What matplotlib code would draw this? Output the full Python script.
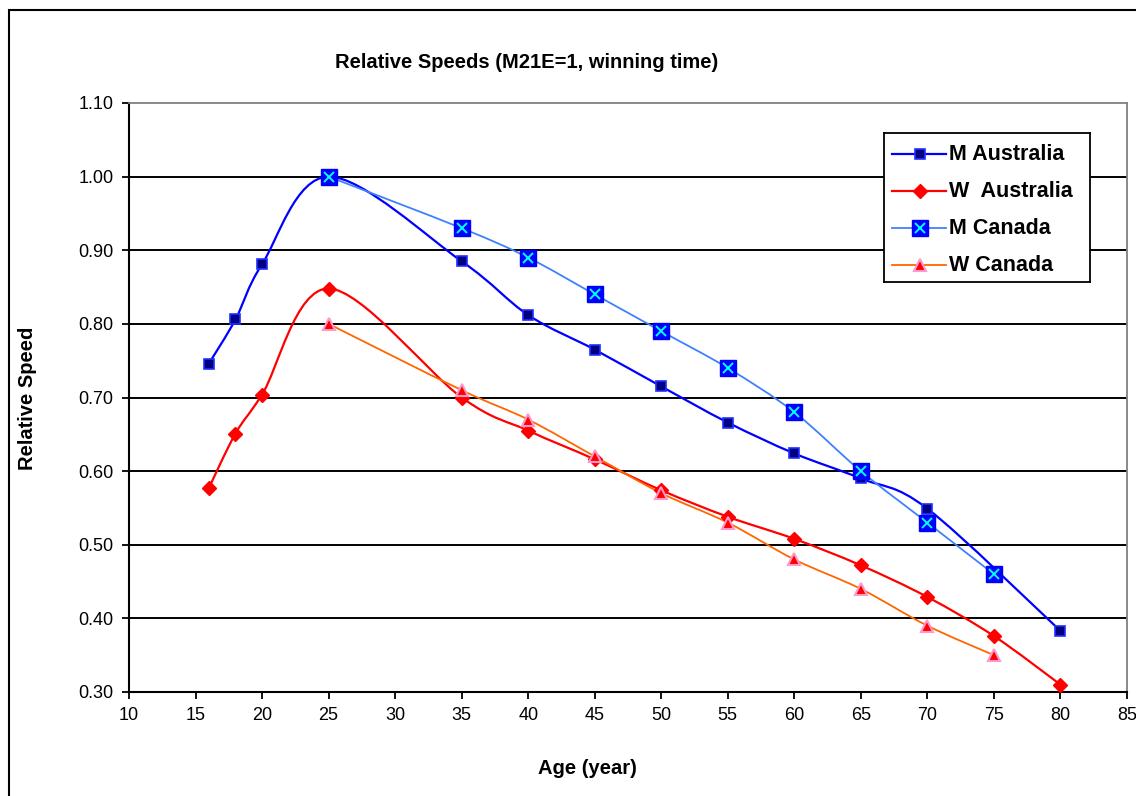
import matplotlib
matplotlib.use("Agg")
import matplotlib.pyplot as plt
from matplotlib.path import Path
from matplotlib.patches import PathPatch, Rectangle
from matplotlib.lines import Line2D
import numpy as np

plt.rcParams['font.family'] = ['Liberation Sans', 'DejaVu Sans']

# ---- data ----
ages_m_aus = [16, 18, 20, 25, 35, 40, 45, 50, 55, 60, 65, 70, 80]
speed_m_aus = [0.746, 0.806, 0.881, 1.00, 0.885, 0.812, 0.765, 0.715, 0.666, 0.624, 0.590, 0.549, 0.383]

ages_w_aus = [16, 18, 20, 25, 35, 40, 45, 50, 55, 60, 65, 70, 75, 80]
speed_w_aus = [0.577, 0.651, 0.704, 0.848, 0.700, 0.655, 0.616, 0.574, 0.538, 0.508, 0.472, 0.429, 0.376, 0.310]

ages_m_can = [25, 35, 40, 45, 50, 55, 60, 65, 70, 75]
speed_m_can = [1.00, 0.93, 0.89, 0.84, 0.79, 0.74, 0.68, 0.60, 0.53, 0.46]

ages_w_can = [25, 35, 40, 45, 50, 55, 60, 65, 70, 75]
speed_w_can = [0.80, 0.71, 0.67, 0.62, 0.57, 0.53, 0.48, 0.44, 0.39, 0.35]

series_names = ["M Australia", "W  Australia", "M Canada", "W Canada"]
x_ticks = list(range(10, 90, 5))
y_ticks = [0.30, 0.40, 0.50, 0.60, 0.70, 0.80, 0.90, 1.00, 1.10]


def smooth_path(xs, ys):
    """Excel-style smoothed line as cubic Bezier segments."""
    pts = np.column_stack([xs, ys]).astype(float)
    n = len(pts)
    verts = [pts[0]]
    codes = [Path.MOVETO]
    for i in range(n - 1):
        p0 = pts[i - 1] if i > 0 else pts[i]
        p1 = pts[i]
        p2 = pts[i + 1]
        p3 = pts[i + 2] if i + 2 < n else pts[i + 1]
        c1 = p1 + (p2 - p0) / 6.0
        c2 = p2 - (p3 - p1) / 6.0
        verts += [c1, c2, p2]
        codes += [Path.CURVE4] * 3
    return Path(verts, codes)


W, H = 1136, 796
fig = plt.figure(figsize=(W / 100, H / 100), dpi=100)

# outer chart border (extends off the right/bottom edge)
fig.add_artist(Rectangle((9 / W, -0.1), 1.2, 1 - 10 / H + 0.1, transform=fig.transFigure,
                         fill=False, edgecolor='black', lw=1.5))

ax = fig.add_axes([129 / W, 1 - 692 / H, (1127 - 129) / W, (692 - 103) / H])
ax.set_xlim(10, 85)
ax.set_ylim(0.30, 1.10)

for y in y_ticks[1:-1]:
    ax.axhline(y, color='black', lw=1.4, zorder=1)

styles = [
    dict(x=ages_m_aus, y=speed_m_aus, lc='#0000FF', lw=1.6,
         m=dict(marker='s', markersize=7.5, markerfacecolor='#000080', markeredgecolor='#2030FF', markeredgewidth=1.2)),
    dict(x=ages_w_aus, y=speed_w_aus, lc='#FF0000', lw=1.6,
         m=dict(marker='D', markersize=7, markerfacecolor='#FF0000', markeredgecolor='#FF0000', markeredgewidth=1)),
    dict(x=ages_m_can, y=speed_m_can, lc='#4080FF', lw=1.3,
         m=dict(marker='s', markersize=11, markerfacecolor='#0000FF', markeredgecolor='#0000FF', markeredgewidth=1)),
    dict(x=ages_w_can, y=speed_w_can, lc='#FF6600', lw=1.3,
         m=dict(marker='^', markersize=8.5, markerfacecolor='#FF0000', markeredgecolor='#FF99CC', markeredgewidth=1.5)),
]

for i, s in enumerate(styles):
    ax.add_patch(PathPatch(smooth_path(s['x'], s['y']), facecolor='none',
                           edgecolor=s['lc'], lw=s['lw'], zorder=3 + i))
    ax.plot(s['x'], s['y'], ls='none', zorder=10 + i, clip_on=False, **s['m'])
    if i == 2:
        ax.plot(s['x'], s['y'], ls='none', marker='x', markersize=6.5,
                markeredgecolor='#00FFFF', markeredgewidth=1.4, zorder=20, clip_on=False)

# legend
leg_ax = fig.add_axes([884 / W, 1 - 282 / H, (1090 - 884) / W, (282 - 133) / H])
leg_ax.set_xlim(0, 206)
leg_ax.set_ylim(149, 0)
leg_ax.set_xticks([])
leg_ax.set_yticks([])
for sp in leg_ax.spines.values():
    sp.set_linewidth(1.3)
    sp.set_color('black')
row_y = [21, 58, 95, 132]
for i, s in enumerate(styles):
    yy = row_y[i]
    leg_ax.plot([8, 62], [yy, yy], color=s['lc'], lw=s['lw'])
    leg_ax.plot([36], [yy], ls='none', **s['m'])
    if i == 2:
        leg_ax.plot([36], [yy], ls='none', marker='x', markersize=6.5,
                    markeredgecolor='#00FFFF', markeredgewidth=1.4)
    leg_ax.text(65, yy + 1, series_names[i], fontsize=15.5, fontweight='bold', va='center', ha='left')

ax.set_xticks(x_ticks)
ax.set_xticklabels([str(t) for t in x_ticks], fontsize=13)
ax.set_yticks(y_ticks)
ax.set_yticklabels([f"{t:.2f}" for t in y_ticks], fontsize=13)
ax.tick_params(direction='out', length=5, width=1.3, colors='black', pad=6)
ax.spines['left'].set_linewidth(1.5)
ax.spines['bottom'].set_linewidth(1.5)
ax.spines['top'].set_color('#808080')
ax.spines['right'].set_color('#808080')
ax.spines['top'].set_linewidth(1.3)
ax.spines['right'].set_linewidth(1.3)

fig.text(527 / W, 1 - 63 / H, "Relative Speeds (M21E=1, winning time)", fontsize=14.5,
         fontweight='bold', ha='center', va='center')
fig.text(587 / W, 1 - 768 / H, "Age (year)", fontsize=14.5, fontweight='bold', ha='center', va='center')
fig.text(28 / W, 1 - 398 / H, "Relative Speed", fontsize=14.5, fontweight='bold', ha='center',
         va='center', rotation=90)

fig.savefig("out.png", dpi=100)
